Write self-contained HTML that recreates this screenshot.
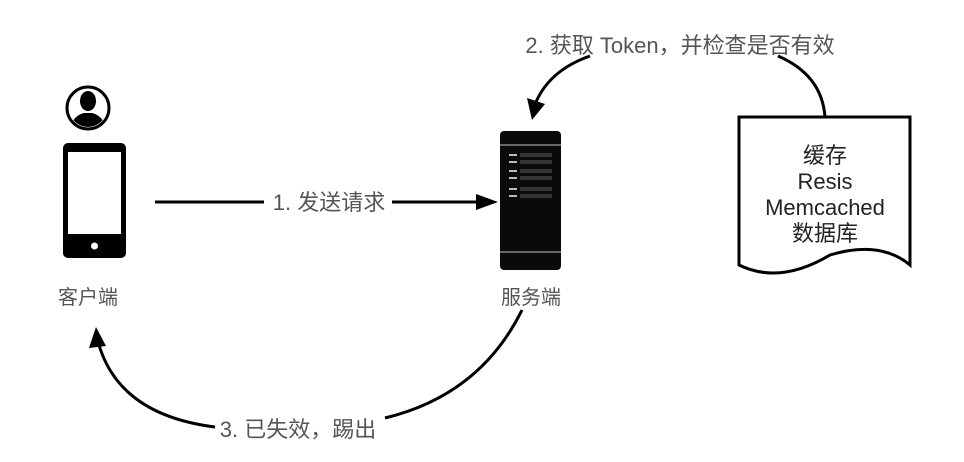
<!DOCTYPE html>
<html><head><meta charset="utf-8"><style>
html,body{margin:0;padding:0;background:#fff;}
body{width:964px;height:457px;overflow:hidden;}
text{font-family:"Liberation Sans","Noto Sans CJK SC",sans-serif;}
</style></head><body>
<svg width="964" height="457" viewBox="0 0 964 457" xmlns="http://www.w3.org/2000/svg">
<!-- person -->
<circle cx="88" cy="108" r="21" fill="none" stroke="#000" stroke-width="3"/>
<clipPath id="c"><circle cx="88" cy="108" r="19"/></clipPath>
<g clip-path="url(#c)" fill="#000">
<ellipse cx="88" cy="101" rx="8" ry="10"/>
<path d="M70 130 Q72 116 84 113 L92 113 Q104 116 106 130 Z"/>
</g>
<!-- phone -->
<rect x="63" y="143" width="63" height="115" rx="5" fill="#000"/>
<rect x="68" y="152" width="53" height="82" fill="#fff"/>
<circle cx="94.5" cy="246" r="3.5" fill="#fff"/>
<text x="88" y="304" font-size="20" text-anchor="middle" fill="#555">客户端</text>
<!-- server -->
<rect x="500" y="131" width="61" height="139" rx="4" fill="#0a0a0a"/>
<line x1="500" y1="145" x2="561" y2="145" stroke="#666" stroke-width="2"/>
<line x1="500" y1="252" x2="561" y2="252" stroke="#666" stroke-width="2"/>
<g fill="#bbb"><rect x="509" y="154" width="8" height="2"/><rect x="509" y="161" width="8" height="2"/><rect x="509" y="170" width="8" height="2"/><rect x="509" y="177" width="8" height="2"/><rect x="509" y="188" width="8" height="2"/><rect x="509" y="195" width="8" height="2"/></g>
<g fill="#333"><rect x="520" y="153" width="32" height="4"/><rect x="520" y="160" width="32" height="4"/><rect x="520" y="169" width="32" height="4"/><rect x="520" y="176" width="32" height="4"/><rect x="520" y="187" width="32" height="4"/><rect x="520" y="194" width="32" height="4"/></g>
<text x="531" y="304" font-size="20" text-anchor="middle" fill="#555">服务端</text>
<!-- arrow 1 -->
<line x1="155" y1="202" x2="480" y2="202" stroke="#000" stroke-width="3"/>
<polygon points="498,202 476,194 476,210" fill="#000"/>
<rect x="264" y="188" width="128" height="28" fill="#fff"/>
<text x="329" y="210" font-size="22" text-anchor="middle" fill="#555">1. 发送请求</text>
<!-- arrow 2 -->
<text x="680" y="53" font-size="22" text-anchor="middle" fill="#555">2. 获取 Token，并检查是否有效</text>
<path d="M590 56 Q550 70 536 102" fill="none" stroke="#000" stroke-width="3"/>
<polygon points="532,120 527,98 545,104" fill="#000"/>
<path d="M778 56 Q822 75 825 117" fill="none" stroke="#000" stroke-width="3"/>
<!-- document -->
<path d="M739 117 L910 117 L910 265 Q880 240 830 255 Q780 285 739 265 Z" fill="#fff" stroke="#000" stroke-width="3"/>
<g font-size="22" text-anchor="middle" fill="#222">
<text x="825" y="163">缓存</text>
<text x="825" y="189">Resis</text>
<text x="825" y="215">Memcached</text>
<text x="825" y="241">数据库</text>
</g>
<!-- arrow 3 -->
<path d="M522 310 Q480 395 385 418" fill="none" stroke="#000" stroke-width="3"/>
<text x="298" y="437" font-size="22" text-anchor="middle" fill="#555">3. 已失效，踢出</text>
<path d="M215 427 Q120 415 99 345" fill="none" stroke="#000" stroke-width="3"/>
<polygon points="96,327 89,348 106,346" fill="#000"/>
</svg>
</body></html>
